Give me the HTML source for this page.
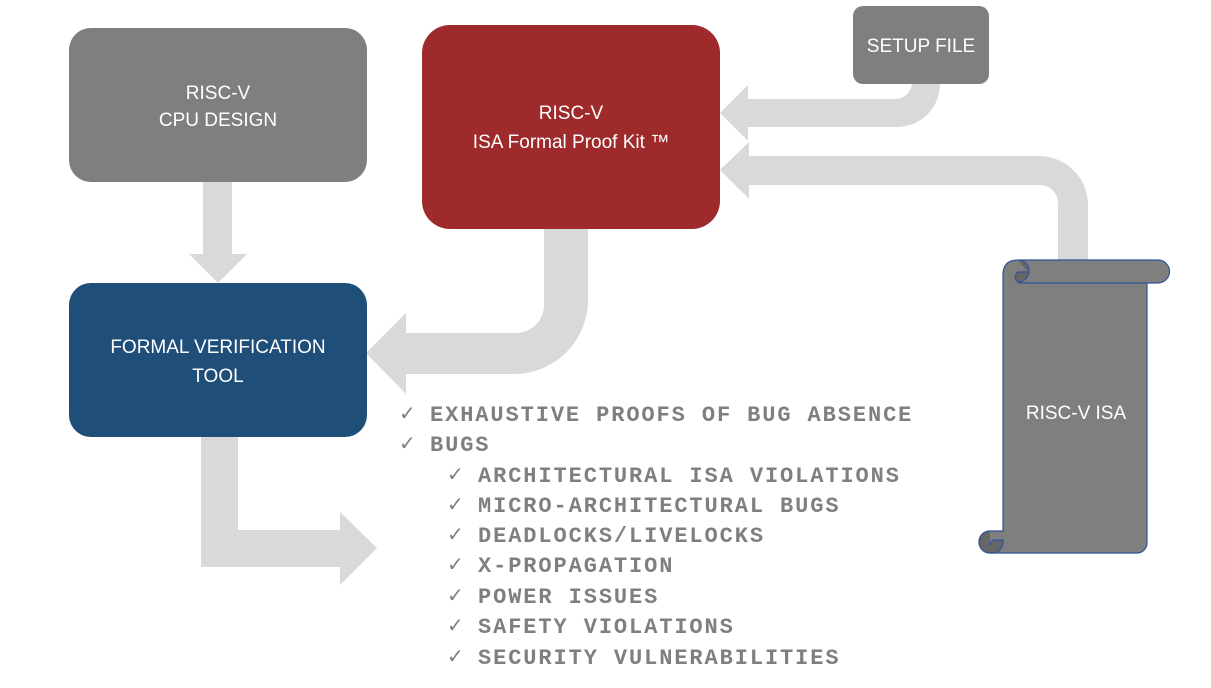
<!DOCTYPE html>
<html><head><meta charset="utf-8"><style>
html,body{margin:0;padding:0;background:#fff;width:1211px;height:688px;overflow:hidden}
svg{display:block}
.t{font-family:"Liberation Sans",sans-serif;fill:#fff;font-size:19px;text-anchor:middle}
.m{font-family:"Liberation Mono",monospace;fill:#7f7f7f;font-size:22px;font-weight:bold;letter-spacing:1.9px}
.c{font-family:"DejaVu Sans",sans-serif;fill:#7f7f7f;font-size:20px}
</style></head><body>
<svg width="1211" height="688" viewBox="0 0 1211 688">
<g fill="#d9d9d9">
<polygon points="203,182 232,182 232,254 247,254 218,283 189,254 203,254"/>
<path d="M544,229 L588,229 L588,300 A74,74 0 0 1 514,374 L406,374 L406,394 L366,353 L406,313 L406,333 L516,333 A28,28 0 0 0 544,305 Z"/>
<path d="M912,84 L940,84 A43,43 0 0 1 897,127 L748,127 L748,141 L720,113 L748,85 L748,99 L895,99 A17,17 0 0 0 912,84 Z"/>
<path d="M1058,262 L1088,262 L1088,205 A49,49 0 0 0 1039,156 L749,156 L749,142 L720,170 L749,199 L749,185 L1040,185 A18,18 0 0 1 1058,203 Z"/>
<polygon points="201,437 238,437 238,530 340,530 340,512 377,548 340,585 340,567 201,567"/>
</g>
<rect x="69" y="28" width="298" height="154" rx="22" fill="#7f7f7f"/>
<text class="t" x="218" y="99">RISC-V</text>
<text class="t" x="218" y="126">CPU DESIGN</text>
<rect x="422" y="25" width="298" height="204" rx="28" fill="#9e2a2b"/>
<text class="t" x="571" y="119">RISC-V</text>
<text class="t" x="571" y="148">ISA Formal Proof Kit ™</text>
<rect x="853" y="6" width="136" height="78" rx="10" fill="#7f7f7f"/>
<text class="t" x="921" y="52">SETUP FILE</text>
<rect x="69" y="283" width="298" height="154" rx="22" fill="#1f4e79"/>
<text class="t" x="218" y="353">FORMAL VERIFICATION</text>
<text class="t" x="218" y="382">TOOL</text>
<g stroke="#2f5597" stroke-width="1.2">
<path d="M1003,275 Q1003,260 1018,260 L1158,260 A11.5,11.5 0 0 1 1158,283 L1147,283 L1147,543 A10,10 0 0 1 1137,553 L990,553 A11,11 0 0 1 990,531 L1003,531 Z" fill="#7f7f7f"/>
<path d="M1018,260 A11,11 0 0 1 1018,282 A6,6 0 0 1 1018,272 L1028,272" fill="#666"/>
<line x1="1018" y1="283" x2="1147" y2="283"/>
<path d="M990,531 A11,11 0 0 0 990,553 A11,11 0 0 0 1003,543 L1003,540 L995,540 A5,5 0 0 0 990,545" fill="#666"/>
</g>
<text class="t" x="1076" y="419">RISC-V ISA</text>
<g>
<text class="c" x="399" y="420">✓</text><text class="m" x="430" y="421">EXHAUSTIVE PROOFS OF BUG ABSENCE</text>
<text class="c" x="399" y="450">✓</text><text class="m" x="430" y="451">BUGS</text>
<text class="c" x="447" y="481">✓</text><text class="m" x="478" y="482">ARCHITECTURAL ISA VIOLATIONS</text>
<text class="c" x="447" y="511">✓</text><text class="m" x="478" y="512">MICRO-ARCHITECTURAL BUGS</text>
<text class="c" x="447" y="541">✓</text><text class="m" x="478" y="542">DEADLOCKS/LIVELOCKS</text>
<text class="c" x="447" y="571">✓</text><text class="m" x="478" y="572">X-PROPAGATION</text>
<text class="c" x="447" y="602">✓</text><text class="m" x="478" y="603">POWER ISSUES</text>
<text class="c" x="447" y="632">✓</text><text class="m" x="478" y="633">SAFETY VIOLATIONS</text>
<text class="c" x="447" y="663">✓</text><text class="m" x="478" y="664">SECURITY VULNERABILITIES</text>
</g>
</svg>
</body></html>
